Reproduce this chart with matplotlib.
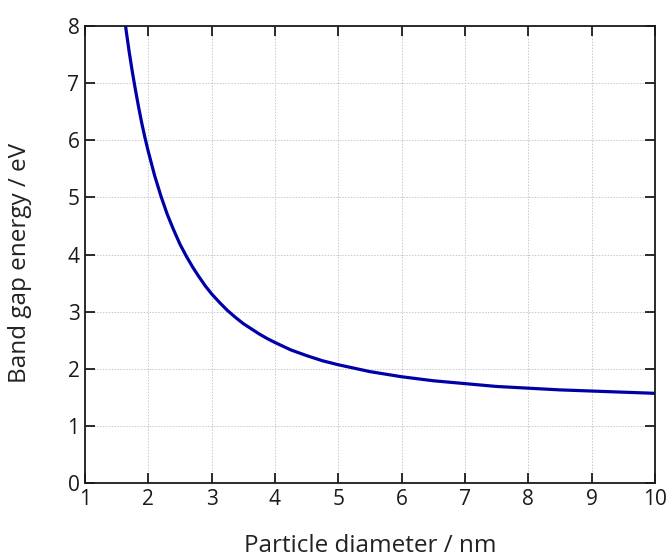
import matplotlib
matplotlib.use("Agg")
import matplotlib.pyplot as plt

# Band gap vs particle diameter
diameter_nm = [1.6, 1.65, 1.7, 1.75, 1.8, 1.85, 1.9, 1.95, 2.0, 2.1, 2.2, 2.3, 2.4, 2.5,
               2.6, 2.7, 2.8, 2.9, 3.0, 3.125, 3.25, 3.375, 3.5, 3.625, 3.75, 3.875,
               4.0, 4.25, 4.5, 4.75, 5.0, 5.5, 6.0, 6.5, 7.0, 7.5, 8.0, 8.5, 9.0, 9.5, 10.0]
band_gap_ev = [8.34, 7.92, 7.53, 7.18, 6.86, 6.56, 6.28, 6.03, 5.80, 5.38, 5.02, 4.70,
               4.43, 4.18, 3.97, 3.78, 3.61, 3.45, 3.31, 3.16, 3.02, 2.90, 2.79, 2.70,
               2.61, 2.53, 2.46, 2.33, 2.23, 2.14, 2.07, 1.95, 1.86, 1.79, 1.74, 1.69,
               1.66, 1.63, 1.61, 1.59, 1.57]

x_ticks = list(range(1, 11))
y_ticks = list(range(0, 9))

plt.rcParams["font.family"] = ["Open Sans", "DejaVu Sans"]

fig = plt.figure(figsize=(6.72, 5.58), dpi=100)
ax = fig.add_axes([0.1265, 0.1344, 0.848, 0.819])

ax.plot(diameter_nm, band_gap_ev, color="#0000a8", linewidth=2.3,
        solid_joinstyle="round")

ax.set_xlim(1, 10)
ax.set_ylim(0, 8)
ax.set_xticks(x_ticks)
ax.set_yticks(y_ticks)
ax.grid(True, color="#c8c8c8", linestyle=(0, (1.5, 1.5)), linewidth=0.7)

ax.tick_params(direction="in", length=7, width=1.3, top=True, right=True,
               labelsize=15, pad=4, colors="#1a1a1a")
for s in ax.spines.values():
    s.set_linewidth(1.3)
    s.set_color("#1a1a1a")

ax.set_xlabel("Particle diameter / nm", fontsize=17.5, color="#222222")
ax.set_ylabel("Band gap energy / eV", fontsize=17.5, color="#222222")
ax.xaxis.set_label_coords(0.5, -0.112)
ax.yaxis.set_label_coords(-0.093, 0.481)

fig.savefig("out.png", dpi=100)
